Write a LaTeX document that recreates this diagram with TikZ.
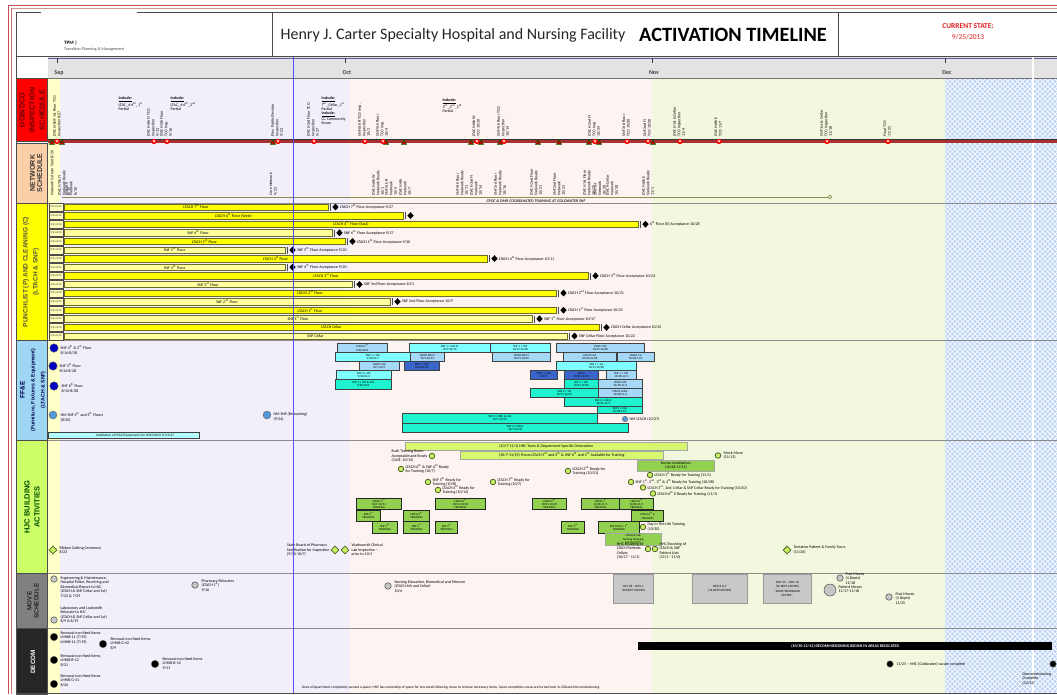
\documentclass[tikz,border=0pt]{standalone}
\usepackage{fontspec}
\setmainfont{Carlito}
\newfontfamily\arialf{Liberation Sans}
\usetikzlibrary{shapes.geometric,patterns}
\pgfdeclarepatternformonly{lattice}{\pgfqpoint{-1pt}{-1pt}}{\pgfqpoint{6pt}{6pt}}{\pgfqpoint{5pt}{5pt}}{%
  \pgfsetlinewidth{0.8pt}%
  \pgfpathmoveto{\pgfqpoint{0pt}{0pt}}\pgfpathlineto{\pgfqpoint{5pt}{5pt}}%
  \pgfpathmoveto{\pgfqpoint{0pt}{5pt}}\pgfpathlineto{\pgfqpoint{5pt}{0pt}}%
  \pgfusepath{stroke}}
\definecolor{sepbg}{HTML}{F2EEFA}
\definecolor{octbg}{HTML}{FDF3F1}
\definecolor{novbg}{HTML}{F1F8DE}
\definecolor{decbg}{HTML}{BCD3F6}
\definecolor{stripc}{HTML}{FFFFC8}
\definecolor{axisbg}{HTML}{E3E3E3}
\definecolor{framec}{HTML}{C0504D}
\definecolor{dobred}{HTML}{FF0000}
\definecolor{netc}{HTML}{FBCFA8}
\definecolor{punc}{HTML}{FFFF00}
\definecolor{ffec}{HTML}{9FD6F4}
\definecolor{hjcc}{HTML}{CCFF66}
\definecolor{movc}{HTML}{808080}
\definecolor{decomc}{HTML}{262626}
\definecolor{redline}{HTML}{A83232}
\definecolor{todayc}{HTML}{5050FF}
\definecolor{barL}{HTML}{FFFF00}
\definecolor{barS}{HTML}{FFFF9E}
\definecolor{barE}{HTML}{6B6B2A}
\definecolor{fcy}{HTML}{7FFFFF}
\definecolor{flb}{HTML}{A6D9F7}
\definecolor{faq}{HTML}{1EF2CF}
\definecolor{fdb}{HTML}{3A66CC}
\definecolor{hbar}{HTML}{D6F76E}
\definecolor{hgr}{HTML}{92D050}
\definecolor{hcirc}{HTML}{C8F060}
\definecolor{hedge}{HTML}{4F6228}
\definecolor{gboxc}{HTML}{C8C8C8}
\definecolor{titlec}{HTML}{262626}
\definecolor{curc}{HTML}{E02020}
\tikzset{
  tx/.style={font=\fontsize{4}{4.5}\selectfont, inner sep=0.4pt, align=left, text=black},
  vtx/.style={tx, rotate=90},
  lanelab/.style={rotate=90, align=center, font=\arialf\bfseries\fontsize{6.5}{10}\selectfont},
  rowlab/.style={draw=black!70, fill=barS!70, minimum width=14, minimum height=7.6, inner sep=0, font=\fontsize{2.6}{3}\selectfont},
  pdia/.style={diamond, fill=black, minimum width=6.5, minimum height=7, inner sep=0},
  ptx/.style={font=\fontsize{4}{4.4}\selectfont, inner sep=0.3pt, text=black},
  ffbox/.style={draw=black!75, line width=0.5pt, anchor=north west, inner sep=0, align=center, font=\fontsize{3}{3.3}\selectfont},
  hbox/.style={draw=black!85, line width=0.9pt, fill=hgr, anchor=north west, inner sep=0, align=center, font=\fontsize{3}{3.3}\selectfont},
  hcir/.style={circle, fill=hcirc, draw=hedge, line width=0.8pt, minimum size=5.5, inner sep=0},
  hdia/.style={diamond, fill=hcirc, draw=hedge, line width=0.8pt, minimum width=8, minimum height=8, inner sep=0},
  bcir/.style={circle, fill=blue!75!black, draw=black!60, line width=0.4pt, minimum size=8.5, inner sep=0},
  lbcir/.style={circle, fill=cyan!60!blue!70, draw=black!60, line width=0.4pt, minimum size=8, inner sep=0},
  mcir/.style={circle, fill=gray!45, draw=black!70, line width=0.5pt, minimum size=6.5, inner sep=0},
  dcir/.style={circle, fill=black, draw=black!60, line width=0.4pt, minimum size=7.5, inner sep=0},
  gbox/.style={draw=gray!80, fill=gboxc, line width=0.6pt, anchor=north west, inner sep=0, align=center, font=\fontsize{3.2}{3.6}\selectfont},
}
\newcommand\rmk[1]{\fill[dobred] (#1,141.5) circle (2.7); \fill[white] ({#1-1.4},140.3) -- ({#1+1.4},140.3) -- (#1,142.6) -- cycle;}
\newcommand\gtri[1]{\filldraw[draw=green!40!black, fill=red!75!black, line width=.5] ({#1-2.6},144.4) -- ({#1+2.6},144.4) -- (#1,139.6) -- cycle;}
\newcommand\dobt[3]{\node[vtx, anchor=west] (#1) at (#2,137) {#3};}
\newcommand\nett[3]{\node[vtx, anchor=west] (#1) at (#2,196) {#3};}
\newcommand\prow[5]{%
  \pgfmathsetmacro\py{207+8.6*(#1-1)}%
  \node[rowlab] (pl#1) at (56,\py) {9/11-9/13};
  \draw[draw=barE, line width=0.6pt, fill=#2] (64,{\py-3.2}) rectangle (#3,{\py+3.2});
  \node[ptx] (pb#1) at ({(64+#3)/2},\py) {#4};
  \draw[black!70, line width=.4] ({#3+1.5},{\py-3}) -- ({#3+2.6},{\py-3}) -- ({#3+2.6},{\py+3}) -- ({#3+1.5},{\py+3});
  \node[pdia] (pd#1) at ({#3+7.5},\py) {};
  \node[ptx, anchor=west] (pa#1) at ({#3+11.5},\py) {#5};
}
\newcommand\fb[7]{\node[ffbox, fill=#6, minimum width={#4-#2}, minimum height={#5-#3}] (#1) at (#2,#3) {#7};}
\newcommand\hb[6]{\node[hbox, minimum width={#4-#2}, minimum height={#5-#3}] (#1) at (#2,#3) {#6};}
\begin{document}
\begin{tikzpicture}[x=1pt,y=-1pt]
\useasboundingbox (0,0) rectangle (1057,694);
\fill[white] (0,0) rectangle (1057,694);
% ---------- backgrounds
\fill[sepbg] (48,78) rectangle (350,694);
\fill[octbg] (350,78) rectangle (652,694);
\fill[novbg] (652,78) rectangle (945,694);
\fill[decbg] (945,78) rectangle (1057,694);
\fill[pattern=lattice, pattern color=white!85!decbg] (945,78) rectangle (1057,694);
\fill[stripc] (48,78) rectangle (60,694);
% ---------- axis band
\fill[axisbg] (48,57) rectangle (1057,78);
\draw[black!55, line width=.6] (48,78) -- (1057,78);
\draw[blue!25!gray, line width=1] (48,58) -- (1057,58);
\foreach \x/\m in {57/Sep,345/Oct,652/Nov,945/Dec}{
  \draw[black!80, line width=.6] (\x,58) -- (\x,62.5);
  \node[font=\fontsize{6}{7}\selectfont\bfseries, text=black!75, inner sep=0] (ax\m) at ({\x+2},73) {\m};
}
\fill[white] (1031.5,57) rectangle (1033.5,694);
% ---------- header
\draw[framec, line width=1.6] (8,5.5) -- (1057,5.5);
\draw[framec!60, line width=.6] (11,8) -- (1057,8);
\draw[framec, line width=1] (8.5,5) -- (8.5,694);
\draw[framec!80, line width=.8] (11.5,8) -- (11.5,694);
\draw[black!70, line width=.8] (16,12) -- (41,12);
\draw[black!70, line width=.8] (137,12) -- (1057,12);
\draw[black!70, line width=.8] (16,12) -- (16,694);
\draw[black!70, line width=.8] (16,56.5) -- (1057,56.5);
\draw[black!70, line width=.8] (272,12) -- (272,56.5);
\draw[black!70, line width=.8] (838,12) -- (838,56.5);
\node[anchor=west, font=\fontsize{5}{6}\selectfont\bfseries, inner sep=0] (tpm) at (64,43) {TPM |};
\node[anchor=west, font=\fontsize{4.2}{5}\selectfont, text=black!70, inner sep=0] (tpm2) at (64,49.5) {Transition Planning \& Management};
\node[font=\fontsize{16}{19}\selectfont, text=titlec, inner sep=0] (title) at (453,35) {Henry J. Carter Specialty Hospital and Nursing Facility};
\node[font=\bfseries\fontsize{20.3}{23}\selectfont, text=black, inner sep=0] (act) at (733,35) {ACTIVATION TIMELINE};
\node[font=\bfseries\fontsize{7.5}{9}\selectfont, text=curc, inner sep=0] (cur) at (968,26) {CURRENT STATE:};
\node[font=\fontsize{7.5}{9}\selectfont, text=curc, inner sep=0] (curd) at (968,37.5) {9/25/2013};
% ---------- lane labels
\filldraw[fill=dobred, draw=black!70, line width=.6] (16,78) rectangle (47.5,141);
\node[lanelab, text=red!40!black, font=\arialf\bfseries\fontsize{7.3}{10}\selectfont] (ldob) at (32,110) {DOB/DCO\\INSPECTION\\SCHEDULE};
\filldraw[fill=netc, draw=black!70, line width=.6] (16,143) rectangle (47.5,203);
\node[lanelab, text=black!80, font=\arialf\bfseries\fontsize{7}{7.2}\selectfont] (lnet) at (36,173) {NETWORK\\SCHEDULE};
\filldraw[fill=punc, draw=black!70, line width=.6] (16,203) rectangle (47.5,340.5);
\node[lanelab, text=black!75!yellow] (lpun) at (31,272) {PUNCHLIST (P) AND CLEANING (C)\\(LTACH \& SNF)};
\filldraw[fill=ffec, draw=black!70, line width=.6] (16,340.5) rectangle (47.5,440);
\node[lanelab, text=blue!30!black, font=\arialf\bfseries\fontsize{5.2}{10}\selectfont] (lffe) at (33,390) {{\fontsize{6.5}{10}\selectfont FF\&E}\\(Furniture, Fixtures \& Equipment)\\(LTACH \& SNF)};
\filldraw[fill=hjcc, draw=black!70, line width=.6] (16,440) rectangle (47.5,573);
\node[lanelab, text=green!30!black, font=\arialf\bfseries\fontsize{7.5}{10}\selectfont] (lhjc) at (32,507) {HJC BUILDING\\ACTIVITIES};
\filldraw[fill=movc, draw=black!70, line width=.6] (16,573) rectangle (47.5,628);
\node[lanelab, text=black!85, font=\arialf\bfseries\fontsize{6.3}{7}\selectfont] (lmov) at (33,601) {MOVE\\SCHEDULE};
\filldraw[fill=decomc, draw=black!70, line width=.6] (16,628) rectangle (47.5,694);
\node[lanelab, text=white, font=\arialf\bfseries\fontsize{6.3}{7}\selectfont] (ldec) at (33,662) {DECOM};
% lane separators
\foreach \yy in {203,340.5,440,573,628}{\draw[black!45, line width=.5] (48,\yy) -- (1057,\yy);}
\draw[black!70, line width=.8] (16,693.5) -- (1057,693.5);
% ---------- DOB lane
\draw[black!80, line width=.5] (48,139.6) -- (1057,139.6);
\draw[redline, line width=2.6] (48,141.6) -- (1057,141.6);
\node[tx, anchor=north west] (inc1) at (118,96) {\underline{\textbf{Include:}}\\LTAC\_4-6\textsuperscript{th}\_1\textsuperscript{st}\\Partial};
\node[tx, anchor=north west] (inc2) at (170,96) {\underline{\textbf{Include:}}\\LTAC\_4-6\textsuperscript{th}\_2\textsuperscript{nd}\\Partial};
\node[tx, anchor=north west] (inc3) at (321,96) {\underline{\textbf{Include:}}\\7\textsuperscript{th}\_Cellar\_1\textsuperscript{st}\\Partial};
\node[tx, anchor=north west] (inc4) at (321,111) {\underline{\textbf{Include:}}\\CC Community\\Room};
\node[tx, anchor=north west] (inc5) at (442,98) {\underline{\textbf{Include:}}\\3\textsuperscript{rd}\_2\textsuperscript{nd}\_5\textsuperscript{th}\\Partial};
\dobt{d1}{57}{LTACH/SNF 1st Floor TCO\\Inspection 8/27}
\dobt{d2}{153}{LTACH 4th Fl TCO\\Inspection\\9/13}
\dobt{d3}{166}{LTACH 5th Floor\\TCO Insp.\\9/16}
\dobt{d4}{277}{Elev. Public Elevator\\Inspection\\9/23}
\dobt{d5}{313}{LTACH 3rd Floor TCO\\Inspection\\9/27}
\dobt{d6}{364}{SNF 6th Fl TCO Insp.\\Inspection\\10/2}
\dobt{d7}{382}{SNF 5th Floor\\TCO Insp.\\10/4}
\dobt{d8}{476}{LTACH 6th W\\TCO 10/10}
\dobt{d9}{503}{SNF 4th Floor TCO\\Inspection\\10/14}
\dobt{d10}{594}{LTACH 2nd Fl\\TCO Insp.\\10/24}
\dobt{d11}{626}{SNF 3rd Floor\\TCO 10/28}
\dobt{d12}{647}{SNF 2nd Fl\\TCO 10/30}
\dobt{d13}{679}{LTACH 1st \& Cellar\\TCO Inspection\\11/4}
\dobt{d14}{718}{LTACH 6th E\\TCO 11/7}
\dobt{d15}{826}{SNF 1st \& Cellar\\TCO Inspection\\11/18}
\dobt{d16}{887}{Final TCO\\11/25}
\foreach \x in {52,62,273,386,404,471,481,500,538,559,589,599,653}{\gtri{\x}}
\foreach \x in {57,154,167,278,314,365,383,477,504,595,627,648,680,719,827,888}{\rmk{\x}}
% ---------- NETWORK lane
\nett{n1}{52}{Network Cutover Start 8/26}
\nett{n2}{64}{LTACH 7th Fl\\Network Ready\\8/30}
\nett{n3}{71}{SNF 6th\\Network\\8/30}
\nett{n4}{273}{Core Network\\9/23}
\nett{n5}{378}{LTACH 6th W\\Network Ready\\10/1}
\nett{n6}{391}{SNF 5th Fl\\Network\\10/4}
\nett{n7}{405}{LTACH 4th\\Network\\10/7}
\nett{n8}{462}{SNF 4th Floor\\Network Ready\\10/11}
\nett{n9}{476}{LTACH 3rd Fl\\Network\\10/14}
\nett{n10}{500}{SNF 3rd Floor\\Network Ready\\10/16}
\nett{n11}{536}{LTACH 2nd Floor\\Network Ready\\10/21}
\nett{n12}{559}{SNF 2nd Floor\\Network\\10/23}
\nett{n13}{589}{LTACH 1st Floor\\Network Ready\\10/25}
\nett{n14}{600}{SNF 1st\\Network\\10/28}
\nett{n15}{612}{LTACH Cellar\\Network\\10/28}
\nett{n16}{648}{LTACH 6th E\\Network Ready\\11/1}
\node[circle, draw=gray!60!olive, fill=novbg, line width=.7, minimum size=3.6, inner sep=0] (cpocend) at (830,197) {};
\coordinate (cpocstart) at (62,197);
\draw[gray!60!olive, line width=.8] (cpocstart) -- (cpocend);
\node[font=\bfseries\itshape\fontsize{4}{4.4}\selectfont, text=black!85, inner sep=0] (cpoc) at (536,201.6) {CPOC \& DMR COORDINATED TRAINING AT GOLDWATER SNF};
% ---------- PUNCHLIST lane
\prow{1}{barL}{328}{LTACH 7\textsuperscript{th} Floor}{LTACH 7\textsuperscript{th} Floor Acceptance 9/27}
\prow{2}{barL}{403}{LTACH 6\textsuperscript{th} Floor (West)}{}
\prow{3}{barL}{638}{LTACH 6\textsuperscript{th} Floor (East)}{6\textsuperscript{th} Floor (E) Acceptance 10/28}
\prow{4}{barS}{332}{SNF 6\textsuperscript{th} Floor}{SNF 6\textsuperscript{th} Floor Acceptance 9/27}
\prow{5}{barL}{345}{LTACH 5\textsuperscript{th} Floor}{LTACH 5\textsuperscript{th} Floor Acceptance 9/30}
\prow{6}{barS}{285}{SNF 5\textsuperscript{th} Floor}{SNF 5\textsuperscript{th} Floor Acceptance 9/20}
\prow{7}{barL}{487}{LTACH 4\textsuperscript{th} Floor}{LTACH 4\textsuperscript{th} Floor Acceptance 10/11}
\prow{8}{barS}{285}{SNF 4\textsuperscript{th} Floor}{SNF 4\textsuperscript{th} Floor Acceptance 9/20}
\prow{9}{barL}{588}{LTACH 3\textsuperscript{rd} Floor}{LTACH 3\textsuperscript{rd} Floor Acceptance 10/24}
\prow{10}{barS}{352}{SNF 3\textsuperscript{rd} Floor}{SNF 3rd Floor Acceptance 10/1}
\prow{11}{barL}{556}{LTACH 2\textsuperscript{nd} Floor}{LTACH 2\textsuperscript{nd} Floor Acceptance 10/21}
\prow{12}{barS}{390}{SNF 2\textsuperscript{nd} Floor}{SNF 2nd Floor Acceptance 10/9}
\prow{13}{barL}{556}{LTACH 1\textsuperscript{st} Floor}{LTACH 1\textsuperscript{st} Floor Acceptance 10/21}
\prow{14}{barS}{532}{SNF 1\textsuperscript{st} Floor}{SNF 1\textsuperscript{st} Floor Acceptance 10/17}
\prow{15}{barL}{599}{LTACH Cellar}{LTACH Cellar Acceptance 10/25}
\prow{16}{barS}{567}{SNF Cellar}{SNF Cellar Floor Acceptance 10/22}
% ---------- FF&E lane
\node[bcir] (fc1) at (54,348) {}; \node[tx, anchor=north west] (fct1) at (60,345) {SNF 4\textsuperscript{th} \& 5\textsuperscript{th} Floor\\8/14-8/28};
\node[bcir] (fc2) at (53,366) {}; \node[tx, anchor=north west] (fct2) at (59,363) {SNF 3\textsuperscript{rd} Floor\\8/14-8/28};
\node[bcir] (fc3) at (54,386) {}; \node[tx, anchor=north west] (fct3) at (61,383) {SNF 6\textsuperscript{th} Floor\\8/14-8/28};
\node[lbcir] (fc4) at (53,415) {}; \node[tx, anchor=north west] (fct4) at (60,412) {NM SNF 4\textsuperscript{th} and 5\textsuperscript{th} Floors\\(8/30)};
\node[lbcir] (fc5) at (267,415) {}; \node[tx, anchor=north west] (fct5) at (273,412) {NM SNF (Remaining)\\(9/24)};
\fill[fcy!70] (48,432) rectangle (199,438.5);
\fill[pattern=crosshatch dots, pattern color=white] (48,432) rectangle (199,438.5);
\draw[black!75, line width=.5] (48,432) rectangle (199,438.5);
\node[tx, font=\fontsize{3.4}{3.8}\selectfont] (ffhat) at (135,435.2) {Installation of FF\&E (Equipment) for SNF/LTACH 9/3-9/27};
\fb{fa1}{337}{343}{387}{352}{flb}{LTACH 7\textsuperscript{th}\\9/26-10/4}
\fb{fa2}{409}{343}{490}{352}{fcy}{SNF 1 + 2nd FL\\10/9-10/16}
\fb{fa3}{490}{343}{550}{352}{fcy}{SNF 1 + 3rd\\10/21-10/28}
\fb{fa4}{556}{343}{644}{352}{flb}{LTACH 3rd\\10/21-10/28}
\fb{fb1}{335}{352}{410}{361}{fcy}{SNF 3 + 5th\\9/30-10/7}
\fb{fb2}{410}{352}{444}{361}{flb}{LTACH 6th Fl\\10/9-10/14}
\fb{fb3}{492}{352}{550}{361}{flb}{LTACH 4th Fl\\10/21-10/25}
\fb{fb4}{563}{352}{616}{361}{flb}{LTACH 2nd\\10/24-10/28}
\fb{fb5}{617}{352}{654}{361}{flb}{LTACH 1st\\10/28-11/1}
\fb{fc6}{359}{361}{399}{370}{flb}{LTACH 5th\\10/1-10/7}
\fb{fc7}{404}{361}{439}{370}{fdb}{SNF 2 + 6th\\10/8-10/11}
\fb{fc8}{556}{361}{636}{370}{fcy}{SNF 1 + 1st\\10/21-10/28}
\fb{fd1}{336}{370}{391}{379}{fcy}{SNF 3 + 4th\\9/30-10/4}
\fb{fd2}{530}{370}{557}{379}{fdb}{SNF 1 + 2nd\\10/17}
\fb{fd3}{564}{370}{598}{379}{fdb}{SNF 2\\10/21-10/25}
\fb{fd4}{606}{370}{636}{379}{flb}{SNF 1 + 3rd\\10/28-11/1}
\fb{fe1}{335}{379}{391}{389}{faq}{SNF 1 + 3rd \& 2nd\\9/30-10/4}
\fb{fe2}{564}{379}{598}{388}{faq}{SNF 1 + 4th\\10/21-10/25}
\fb{fe3}{598}{379}{642}{388}{flb}{LTACH 6th\\10/28-11/1}
\fb{ff1}{530}{388}{598}{397}{faq}{SNF 3 + 1st\\10/17-10/25}
\fb{ff2}{598}{388}{642}{397}{flb}{LTACH Cellar\\10/28-11/1}
\fb{fg1}{564}{397}{642}{406}{faq}{SNF 2 + Cellar\\10/21-11/1}
\fb{fh1}{597}{406}{642}{413}{faq}{SNF 3 + 2nd\\10/28-11/1}
\fb{fi1}{402}{413}{597}{423}{faq}{SNF 3 + 3RD \& 2nd\\10/7-10/25}
\fb{fi2}{402}{423}{628}{432}{faq}{SNF 3 + Cellar\\10/7-10/30}
\node[lbcir, minimum size=5.5] (fc6c) at (625,419) {}; \node[tx, anchor=west] (fct6) at (629,419) {NM LTACH (10/27)};
% ---------- HJC lane
\node[draw=gray!70, fill=hbar, line width=.6, anchor=north west, minimum width=282, minimum height=8, inner sep=0, font=\fontsize{4}{4.4}\selectfont] (hbar1) at (405,442) {(10/7-11/1) HHC Tours \& Department Specific Orientation};
\node[draw=gray!70, fill=hbar, line width=.6, anchor=north west, minimum width=203, minimum height=8.5, inner sep=0, font=\fontsize{4}{4.4}\selectfont] (hbar2) at (460,450.5) {(10/7-11/15) Floors LTACH 3\textsuperscript{rd} and 5\textsuperscript{th} \& SNF 6\textsuperscript{th} and 5\textsuperscript{th} Available for Training};
\node[draw=gray!70, fill=hgr, line width=.6, anchor=north west, minimum width=77, minimum height=11, inner sep=0, align=center, font=\fontsize{3.8}{4.2}\selectfont] (hdoc) at (637,459.5) {Doctor Installations\\(10/28-11/13)};
\node[hcir] (hm) at (718,455.5) {}; \node[tx, anchor=west] (hmt) at (723,455.5) {Mock Move\\(11/13)};
\node[hcir] (hc1) at (432,456) {}; \node[tx, anchor=east] (hct1) at (428,456) {Rush Training Room\\Acceptable and Ready\\(10/8- 10/15)};
\node[hcir] (hc2) at (401,469) {}; \node[tx, anchor=west] (hct2) at (405,469) {LTACH 6\textsuperscript{th} \& SNF 6\textsuperscript{th} Ready\\for Training (10/7)};
\node[hcir] (hc3) at (428,482) {}; \node[tx, anchor=west] (hct3) at (432,482) {SNF 5\textsuperscript{th} Ready for\\Training (10/8)};
\node[hcir] (hc4) at (438,490) {}; \node[tx, anchor=west] (hct4) at (442,490) {LTACH 4\textsuperscript{th} Ready for\\Training (10/14)};
\node[hcir] (hc5) at (493,482) {}; \node[tx, anchor=west] (hct5) at (497,482) {LTACH 7\textsuperscript{th} Ready for\\Training (10/7)};
\node[hcir] (hc6) at (568,471) {}; \node[tx, anchor=west] (hct6) at (572,471) {LTACH 2\textsuperscript{nd} Ready for\\Training (10/21)};
\node[hcir] (hc7) at (650,475) {}; \node[tx, anchor=west] (hct7) at (654,475) {LTACH 1\textsuperscript{st} Ready for Training (11/1)};
\node[hcir] (hc8) at (631,482) {}; \node[tx, anchor=west] (hct8) at (635,482) {SNF 1\textsuperscript{st}, 2\textsuperscript{nd}, 3\textsuperscript{rd} \& 4\textsuperscript{th} Ready for Training (10/28)};
\node[hcir] (hc9) at (643,487.5) {}; \node[tx, anchor=west] (hct9) at (647,487.5) {LTACH 3\textsuperscript{rd}, 2nd, Cellar \& SNF Cellar Ready for Training (10/30)};
\node[hcir] (hc10) at (653,493.5) {}; \node[tx, anchor=west] (hct10) at (657,493.5) {LTACH 6\textsuperscript{th} E Ready for Training (11/1)};
\hb{hb1}{356}{498}{401}{508.5}{LTACH 7\textsuperscript{th}\\10/7-10/11\\TRAINING}
\hb{hb2}{356}{509.5}{380}{520.5}{SNF 6\textsuperscript{th}\\TRAINING}
\hb{hb3}{372}{521}{397}{533}{SNF 5\textsuperscript{th}\\TRAINING}
\hb{hb4}{403}{509.5}{429}{520.5}{LTACH 6\textsuperscript{th}\\TRAINING}
\hb{hb5}{403}{521}{429}{533}{SNF 4\textsuperscript{th}\\TRAINING}
\hb{hb6}{435}{497.5}{485}{509}{LTACH 4\textsuperscript{th}\\10/14-10/18\\TRAINING}
\hb{hb7}{435}{521}{457}{533}{SNF 3\textsuperscript{rd}\\TRAINING}
\hb{hb8}{532}{497.5}{566}{509}{LTACH 2\textsuperscript{nd}\\10/21-10/25\\TRAINING}
\hb{hb9}{581}{497.5}{619}{509}{LTACH 1\textsuperscript{st}\\10/28-11/1\\TRAINING}
\hb{hb10}{619}{497.5}{653}{509}{LTACH 3\textsuperscript{rd}\\10/28-11/1\\TRAINING}
\hb{hb11}{631}{509.5}{663}{521}{LTACH 6\textsuperscript{th} E\\TRAINING}
\hb{hb12}{561}{520.5}{584}{533}{SNF 2\textsuperscript{nd}\\TRAINING}
\hb{hb13}{598}{520.5}{639}{533}{SNF Cellar / 1\textsuperscript{st}\\TRAINING}
\node[draw=gray!70, fill=hgr, line width=.6, anchor=north west, minimum width=56, minimum height=12, inner sep=0, align=center, font=\fontsize{3}{3.3}\selectfont] (hb14) at (605,533) {LTACH \& SNF\\Nursing Cleaning\\(11/4-11/15)};
\node[hcir] (hc11) at (643,527) {}; \node[tx, anchor=west] (hct11) at (647,527) {Day in The Life Training\\(10/30)};
\node[hcir] (hc12) at (648,549) {}; \node[tx, anchor=east] (hct12) at (644,551) {HHC Brushing of\\LTACH Patients\\Cellars\\(10/27 - 11/1)};
\node[hcir] (hc13) at (655,549) {}; \node[tx, anchor=west] (hct13) at (659,551) {HHC Brushing of\\LTACH \& SNF\\Patient Lists\\(11/1 - 11/4)};
\node[hdia] (hd1) at (53,550) {}; \node[tx, anchor=west] (hdt1) at (59,550) {Ribbon Cutting Ceremony\\8/23};
\node[hdia] (hd2) at (335,550) {}; \node[tx, anchor=east] (hdt2) at (330,550) {State Board of Pharmacy\\Notification for Inspection\\(9/30-10/7)};
\node[hdia] (hd3) at (345,550) {}; \node[tx, anchor=west] (hdt3) at (351,550) {Wadsworth Clinical\\Lab Inspection --\\prior to 10/1};
\node[hdia] (hd4) at (787,550) {}; \node[tx, anchor=west] (hdt4) at (793,550) {Tentative Patient \& Family Tours\\(11/26)};
% ---------- MOVE lane
\node[mcir] (mc1) at (54,579) {}; \node[tx, anchor=north west] (mct1) at (60,576) {Engineering \& Maintenance,\\Hospital Police, Receiving and\\Biomedical Report to HJC\\(LTACH \& SNF Cellar and 1st)\\7/22 \& 7/29};
\node[mcir] (mc2) at (54,620) {}; \node[tx, anchor=north west] (mct2) at (60,606) {Laboratory and Locksmith\\Relocate to HJC\\(LTACH \& SNF Cellar and 1st)\\8/9 \& 8/19};
\node[mcir] (mc3) at (195,585) {}; \node[tx, anchor=north west] (mct3) at (201,579) {Pharmacy Relocates\\(LTACH 1\textsuperscript{st})\\9/16};
\node[mcir] (mc4) at (388,586) {}; \node[tx, anchor=north west] (mct4) at (394,580) {Nursing Education, Biomedical and Telecom\\(LTACH 4th and Cellar)\\10/4};
\node[gbox, minimum width=40, minimum height=29] (mb1) at (613,574) {OCT 28 -- NOV 1\\(10 DEPT MOVES)};
\node[gbox, minimum width=55, minimum height=29] (mb2) at (692,574) {NOV 8 \& 9\\(16 DEPT MOVES)};
\node[gbox, minimum width=48, minimum height=29] (mb3) at (763,574) {NOV 15 -- NOV 16\\(16 DEPT MOVES)\\[2pt]*SOME SECONDARY\\MOVES*};
\node[mcir] (mc5) at (840,578) {}; \node[tx, anchor=north west] (mct5) at (845,572) {Post Moves\\(4 Depts)\\11/18};
\node[mcir, minimum size=12] (mc6) at (830,590) {}; \node[tx, anchor=north west] (mct6) at (838,585) {Patient Moves\\11/17-11/18};
\node[mcir] (mc7) at (889,597) {}; \node[tx, anchor=north west] (mct7) at (895,592) {Post Moves\\(4 Depts)\\11/25};
% ---------- DECOM lane
\node[dcir] (dc1) at (54,637) {}; \node[tx, anchor=north west] (dct1) at (60,631) {Removal non fixed items\\LMNB-11 (7/19)\\LMNB-11 (7/19)};
\node[dcir] (dc2) at (103,644) {}; \node[tx, anchor=north west] (dct2) at (110,637) {Removal non fixed items\\LMNB G-42\\8/9};
\node[dcir] (dc3) at (54,660) {}; \node[tx, anchor=north west] (dct3) at (60,654) {Removal non fixed items\\LMNB B-12\\8/21};
\node[dcir] (dc4) at (155,664) {}; \node[tx, anchor=north west] (dct4) at (162,657) {Removal non fixed items\\LMNB B-12\\9/11};
\node[dcir] (dc5) at (54,684) {}; \node[tx, anchor=north west] (dct5) at (60,674) {Removal non fixed items\\LMNB G-41\\8/26};
\node[fill=black, anchor=north west, minimum width=414, minimum height=8, inner sep=0, text=white, font=\bfseries\fontsize{4}{4.4}\selectfont] (dbar) at (638,642) {(10/30-12/12) DECOMMISSIONING BEGINS IN AREAS RELOCATED};
\node[dcir, minimum size=6.5] (dc6) at (890,664) {}; \node[tx, anchor=west] (dct6) at (896,664) {11/25 -- HHC (Goldwater) vacate complete};
\node[dcir, minimum size=6.5] (dc7) at (1053,664) {};
\node[tx, anchor=north west] (dct7) at (1022,672) {Decommissioning\\Complete\\(12/12)};
\node[tx, font=\fontsize{3.6}{4}\selectfont] (note) at (451,687.5) {Once a Department completely vacates a space, HHC has ownership of space for one week following move to remove necessary items. Upon completion areas are turned over to Gilbane Decommissioning.};
% ---------- today line
\draw[todayc, line width=.7] (293,57) -- (293,693);
\end{tikzpicture}
\end{document}
